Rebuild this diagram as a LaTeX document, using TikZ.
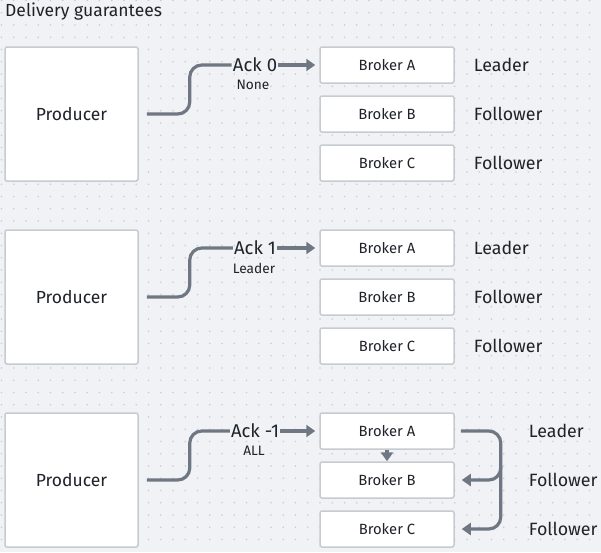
\documentclass[tikz,border=0pt]{standalone}
\usepackage{fontspec}
\setmainfont{Fira Sans}
\usetikzlibrary{arrows.meta,positioning}
\definecolor{bgcol}{HTML}{F1F2F6}
\definecolor{dotcol}{HTML}{C9CCD4}
\definecolor{boxline}{HTML}{C6CBD1}
\definecolor{linecol}{HTML}{6F7782}
\definecolor{txtcol}{HTML}{1F2329}
\tikzset{>={Triangle[length=9pt,width=12pt]}}
\tikzset{
  prodbox/.style={draw=boxline,line width=1.5pt,fill=white,rounded corners=2pt,
    minimum width=133pt,minimum height=134pt,text=txtcol,font=\fontsize{17.5}{20}\selectfont},
  brokerbox/.style={draw=boxline,line width=1.5pt,fill=white,rounded corners=2pt,
    minimum width=134pt,minimum height=36pt,text=txtcol,font=\fontsize{14.8}{17}\selectfont},
  role/.style={text=txtcol,font=\fontsize{17.8}{20}\selectfont,inner sep=0pt},
  acklabel/.style={text=txtcol,font=\fontsize{18.5}{21}\selectfont,inner sep=1pt},
  acknote/.style={text=txtcol,font=\fontsize{13.7}{16}\selectfont,inner sep=0pt},
  conn/.style={line width=3.2pt,linecol,rounded corners=12pt},
}

\begin{document}
\begin{tikzpicture}[x=1pt,y=-1pt]
  % Background and dot grid
  \fill[bgcol] (0,0) rectangle (601,552);
  \useasboundingbox (0,0) rectangle (601,552);
  \foreach \i in {0,...,48}
    \foreach \j in {0,...,44}
      \fill[dotcol] (1.5+12.25*\i, 0.5+12.25*\j) circle (0.8pt);

  \node[anchor=west,text=txtcol,font=\fontsize{17.5}{20}\selectfont,inner sep=0pt] (title) at (5,12) {Delivery guarantees};

  % Ack 0
  \node[prodbox] (p1) at (71.5,114) {Producer};
  \node[brokerbox] (a1) at (387,65) {Broker A};
  \node[brokerbox] (b1) at (387,114) {Broker B};
  \node[brokerbox] (c1) at (387,163) {Broker C};
  \node[role,anchor=west,right=19pt of a1] (ra1) {Leader};
  \node[role,anchor=west,right=19pt of b1] (rb1) {Follower};
  \node[role,anchor=west,right=19pt of c1] (rc1) {Follower};
  \node[acklabel] (ack1) at (255,65) {Ack 0};
  \node[acknote] (n1) at (253,85) {None};
  \draw[conn] ([xshift=8pt]p1.east) -- ++(43,0) |- (ack1.west);
  \draw[conn,->] (ack1.east) -- ([xshift=-4pt]a1.west);

  % Ack 1
  \node[prodbox] (p2) at (71.5,297) {Producer};
  \node[brokerbox] (a2) at (387,248) {Broker A};
  \node[brokerbox] (b2) at (387,297) {Broker B};
  \node[brokerbox] (c2) at (387,346) {Broker C};
  \node[role,anchor=west,right=19pt of a2] (ra2) {Leader};
  \node[role,anchor=west,right=19pt of b2] (rb2) {Follower};
  \node[role,anchor=west,right=19pt of c2] (rc2) {Follower};
  \node[acklabel] (ack2) at (255,248) {Ack 1};
  \node[acknote] (n2) at (254,268) {Leader};
  \draw[conn] ([xshift=8pt]p2.east) -- ++(43,0) |- (ack2.west);
  \draw[conn,->] (ack2.east) -- ([xshift=-4pt]a2.west);

  % Ack -1
  \node[prodbox] (p3) at (71.5,480) {Producer};
  \node[brokerbox] (a3) at (387,431) {Broker A};
  \node[brokerbox] (b3) at (387,480) {Broker B};
  \node[brokerbox] (c3) at (387,529) {Broker C};
  \node[role,anchor=west,right=74pt of a3] (ra3) {Leader};
  \node[role,anchor=west,right=74pt of b3] (rb3) {Follower};
  \node[role,anchor=west,right=74pt of c3] (rc3) {Follower};
  \node[acklabel] (ack3) at (255,431) {Ack -1};
  \node[acknote] (n3) at (254,451) {ALL};
  \draw[conn] ([xshift=8pt]p3.east) -- ++(43,0) |- (ack3.west);
  \draw[conn,->] (ack3.east) -- ([xshift=-4pt]a3.west);
  \draw[conn,->] (a3.south) -- (b3.north);
  \draw[conn,->] ([xshift=6pt]a3.east) -- ++(40,0) |- ([xshift=7pt]c3.east);
  \draw[conn,->] ([xshift=46pt,yshift=14pt]b3.east) |- ([xshift=7pt]b3.east);
\end{tikzpicture}
\end{document}
